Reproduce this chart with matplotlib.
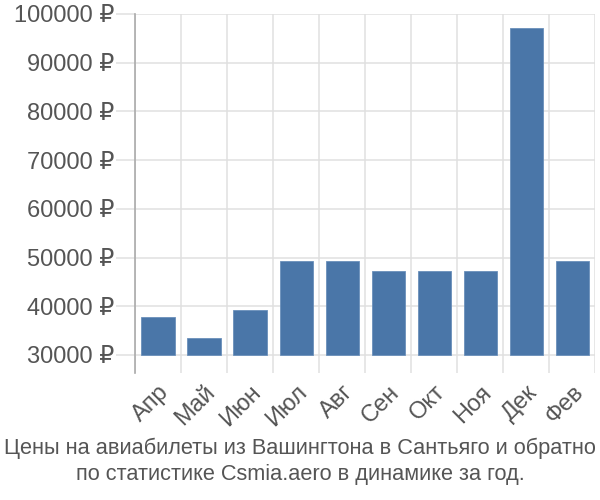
import numpy as np
import matplotlib
matplotlib.use("Agg")
import matplotlib.pyplot as plt
from matplotlib.ticker import FixedLocator, FuncFormatter

months = ["Апр", "Май", "Июн", "Июл", "Авг", "Сен", "Окт", "Ноя", "Дек", "Фев"]
prices = [37800, 33500, 39200, 49300, 49300, 47200, 47200, 47200, 97200, 49300]
yticks = [30000, 40000, 50000, 60000, 70000, 80000, 90000, 100000]
title = "Цены на авиабилеты из Вашингтона в Сантьяго и обратно\nпо статистике Csmia.aero в динамике за год."

plt.rcParams["font.family"] = ["Liberation Sans", "DejaVu Sans"]
fig = plt.figure(figsize=(6, 5), dpi=100)
ax = fig.add_axes([0.225, 0.254, 0.767, 0.718])

base = 30000
x = np.arange(len(months))
ax.bar(x, [p - base for p in prices], bottom=base, width=0.72,
       color="#4a76a8", edgecolor="#6a90bb", linewidth=0.6, zorder=3)

ax.set_xlim(-0.5, len(months) - 0.5)
ax.set_ylim(26300, 100000)
ax.yaxis.set_major_locator(FixedLocator(yticks))
ax.yaxis.set_major_formatter(FuncFormatter(lambda v, p: f"{int(v)} ₽"))
ax.set_xticks(x)
ax.set_xticklabels(months, rotation=45, ha="right", va="top", rotation_mode="anchor")
ax.set_xticks(np.arange(-0.5, len(months)), minor=True)

ax.grid(axis="y", which="major", color="#e0e0e0", linewidth=1.1, zorder=0)
ax.grid(axis="x", which="minor", color="#e0e0e0", linewidth=1.1, zorder=0)
ax.tick_params(axis="y", length=14, color="#e0e0e0", width=1.1, labelsize=17,
               labelcolor="#555555", pad=1)
ax.tick_params(axis="x", which="major", length=0, labelsize=17, labelcolor="#555555", pad=6)
ax.tick_params(axis="x", which="minor", length=0)

for s in ["top", "right", "bottom"]:
    ax.spines[s].set_visible(False)
ax.spines["left"].set_color("#aaaaaa")
ax.spines["left"].set_linewidth(1.2)

fig.text(0.5, 0.077, title, ha="center", va="center", fontsize=15.7,
         color="#555555", linespacing=1.3)

fig.savefig("out.png", dpi=100)
